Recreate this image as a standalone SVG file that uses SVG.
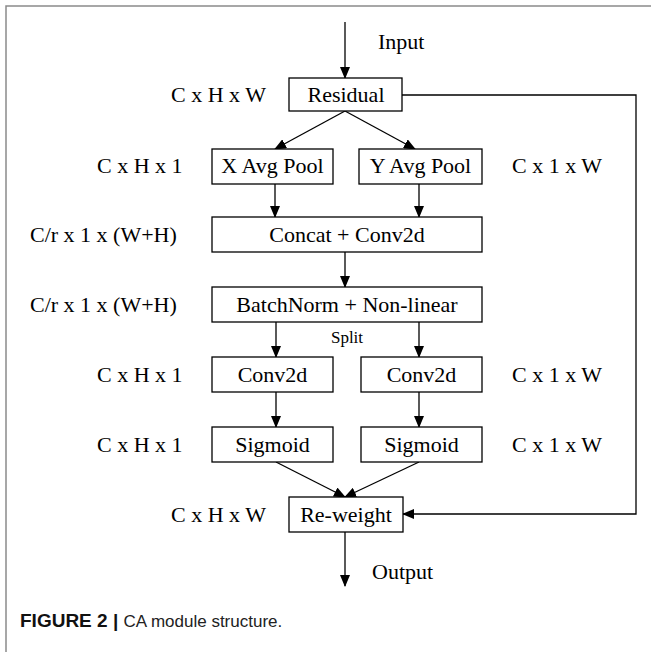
<svg xmlns="http://www.w3.org/2000/svg" width="651" height="652" viewBox="0 0 651 652">
  <style>
    .box { fill: #fff; stroke: #000; stroke-width: 1.3; }
    .lbl { font-family: "Liberation Serif", "Times New Roman", serif; font-size: 22px; fill: #000; }
    .mid { text-anchor: middle; }
    .edge { fill: none; stroke: #000; stroke-width: 1.3; }
    .frame { fill: none; stroke: #8a8a8a; stroke-width: 1.5; }
    .cap { font-family: "Liberation Sans", Arial, sans-serif; font-size: 17px; fill: #222; }
  </style>
  <defs>
    <marker id="arrow" markerWidth="12" markerHeight="10" refX="11" refY="5" orient="auto" markerUnits="userSpaceOnUse">
      <path d="M0,0 L12,5 L0,10 Z" fill="#000"/>
    </marker>
  </defs>
  <rect width="651" height="652" fill="#fff"/>
  <!-- figure frame -->
  <path class="frame" d="M6,652 V6 H651"/>

  <!-- connectors -->
  <g id="connectors">
    <line class="edge" x1="345" y1="22" x2="345" y2="78" marker-end="url(#arrow)"/>
    <line class="edge" x1="345" y1="111" x2="275" y2="149" marker-end="url(#arrow)"/>
    <line class="edge" x1="345" y1="111" x2="415" y2="149" marker-end="url(#arrow)"/>
    <line class="edge" x1="275" y1="184" x2="275" y2="217" marker-end="url(#arrow)"/>
    <line class="edge" x1="419" y1="184" x2="419" y2="217" marker-end="url(#arrow)"/>
    <line class="edge" x1="345" y1="252" x2="345" y2="287" marker-end="url(#arrow)"/>
    <line class="edge" x1="276" y1="322" x2="276" y2="357" marker-end="url(#arrow)"/>
    <line class="edge" x1="419" y1="322" x2="419" y2="357" marker-end="url(#arrow)"/>
    <line class="edge" x1="276" y1="392" x2="276" y2="427" marker-end="url(#arrow)"/>
    <line class="edge" x1="419" y1="392" x2="419" y2="427" marker-end="url(#arrow)"/>
    <line class="edge" x1="276" y1="462" x2="345" y2="497" marker-end="url(#arrow)"/>
    <line class="edge" x1="419" y1="462" x2="345" y2="497" marker-end="url(#arrow)"/>
    <path class="edge" d="M402,95 H636 V514 H403" marker-end="url(#arrow)"/>
    <line class="edge" x1="345" y1="532" x2="345" y2="586" marker-end="url(#arrow)"/>
  </g>

  <!-- nodes -->
  <g id="residual">
    <rect class="box" x="289" y="78" width="113" height="33"/>
    <text class="lbl mid" x="346" y="102">Residual</text>
  </g>
  <g id="x-avg-pool">
    <rect class="box" x="212" y="149" width="121" height="35"/>
    <text class="lbl mid" x="272.5" y="173">X Avg Pool</text>
  </g>
  <g id="y-avg-pool">
    <rect class="box" x="359" y="149" width="123" height="35"/>
    <text class="lbl mid" x="420.5" y="173">Y Avg Pool</text>
  </g>
  <g id="concat">
    <rect class="box" x="212" y="217" width="270" height="35"/>
    <text class="lbl mid" x="347" y="242">Concat + Conv2d</text>
  </g>
  <g id="batchnorm">
    <rect class="box" x="212" y="287" width="270" height="35"/>
    <text class="lbl mid" x="347" y="312">BatchNorm + Non-linear</text>
  </g>
  <g id="conv-left">
    <rect class="box" x="212" y="357" width="121" height="35"/>
    <text class="lbl mid" x="272.5" y="382">Conv2d</text>
  </g>
  <g id="conv-right">
    <rect class="box" x="361" y="357" width="121" height="35"/>
    <text class="lbl mid" x="421.5" y="382">Conv2d</text>
  </g>
  <g id="sigmoid-left">
    <rect class="box" x="212" y="427" width="121" height="35"/>
    <text class="lbl mid" x="272.5" y="452">Sigmoid</text>
  </g>
  <g id="sigmoid-right">
    <rect class="box" x="361" y="427" width="121" height="35"/>
    <text class="lbl mid" x="421.5" y="452">Sigmoid</text>
  </g>
  <g id="reweight">
    <rect class="box" x="289" y="497" width="114" height="35"/>
    <text class="lbl mid" x="346" y="522">Re-weight</text>
  </g>

  <!-- flow and shape labels -->
  <g id="labels">
    <text class="lbl" x="378" y="49">Input</text>
    <text class="lbl" x="372" y="579">Output</text>
    <text class="lbl mid" x="347" y="343" style="font-size:17px">Split</text>
    <text class="lbl" x="171" y="102">C x H x W</text>
    <text class="lbl" x="97" y="173">C x H x 1</text>
    <text class="lbl" x="512" y="173">C x 1 x W</text>
    <text class="lbl" x="30" y="242">C/r x 1 x (W+H)</text>
    <text class="lbl" x="30" y="312">C/r x 1 x (W+H)</text>
    <text class="lbl" x="97" y="382">C x H x 1</text>
    <text class="lbl" x="512" y="382">C x 1 x W</text>
    <text class="lbl" x="97" y="452">C x H x 1</text>
    <text class="lbl" x="512" y="452">C x 1 x W</text>
    <text class="lbl" x="171" y="522">C x H x W</text>
  </g>

  <!-- caption -->
  <text class="cap" x="20" y="627"><tspan font-weight="bold" font-size="19px" fill="#111">FIGURE 2 | </tspan>CA module structure.</text>
</svg>
